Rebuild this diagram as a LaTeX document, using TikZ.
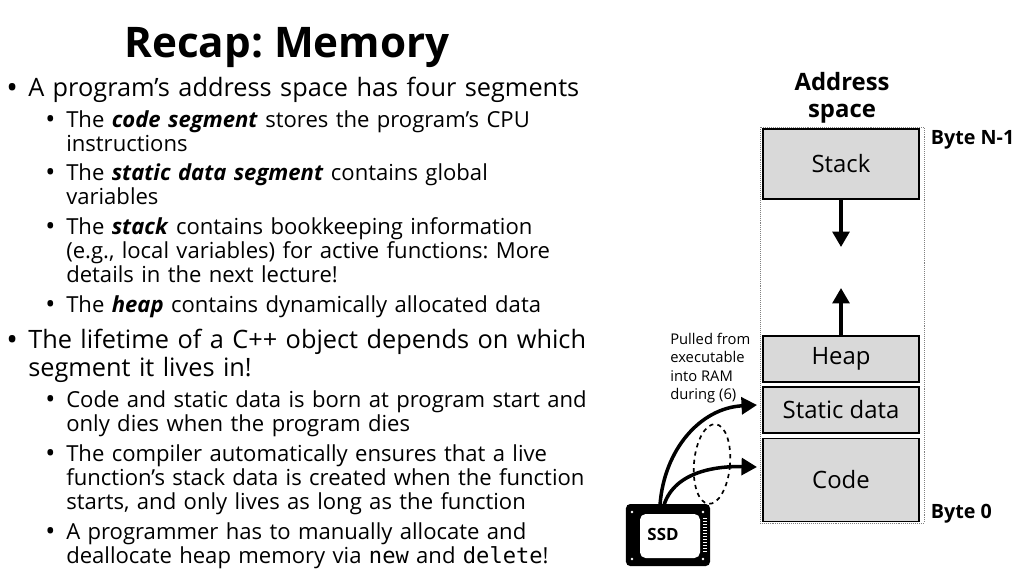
\documentclass[tikz,border=0pt]{standalone}
\usepackage{fontspec}
\setmainfont{Open Sans}
\setmonofont{DejaVu Sans Mono}
\usetikzlibrary{positioning,arrows.meta}
\hyphenpenalty=10000
\exhyphenpenalty=10000
\frenchspacing
\tikzset{
	seg/.style={draw,thick,fill=black!15,minimum width=3.9cm,font=\fontsize{17}{20}\selectfont},
	lone/.style={anchor=north west,text width=14.2cm,align=left,inner sep=0pt,font=\fontsize{18}{19.6}\selectfont},
	ltwo/.style={anchor=north west,text width=13.2cm,align=left,inner sep=0pt,font=\fontsize{15.7}{17.2}\selectfont},
	dot/.style={anchor=north west,inner sep=0pt},
	blk/.style={line width=2.5pt,-{Triangle[length=11pt,width=12pt]}}
}
\begin{document}
\begin{tikzpicture}[x=0.025cm,y=-0.025cm]
	\useasboundingbox (0,0) rectangle (1024,575);
	
	%Titre
	\node[font=\fontsize{30}{34}\selectfont\bfseries] (title) at (287,48) {Recap: Memory};
	
	%Puces
	\node[lone] (b1) at (28,77) {A program’s address space has four segments};
	\node[lone] (b2) at (28,329) {The lifetime of a C++ object depends on which segment it lives in!};
	\foreach \y in {83,335}
		\node[dot,font=\fontsize{22}{20}\selectfont] at (6,\y) {•};
	\node[ltwo] (b11) at (66,110) {The \textbf{\textit{code segment}} stores the program’s CPU instructions};
	\node[ltwo] (b12) at (66,163) {The \textbf{\textit{static data segment}} contains global\newline variables};
	\node[ltwo] (b13) at (66,217) {The \textbf{\textit{stack}} contains bookkeeping information\newline (e.g., local variables) for active functions: More\newline details in the next lecture!};
	\node[ltwo] (b14) at (66,295) {The \textbf{\textit{heap}} contains dynamically allocated data};
	\node[ltwo] (b21) at (66,390) {Code and static data is born at program start and only dies when the program dies};
	\node[ltwo] (b22) at (66,444) {The compiler automatically ensures that a live function’s stack data is created when the function starts, and only lives as long as the function};
	\node[ltwo] (b23) at (66,522) {A programmer has to manually allocate and deallocate heap memory via \texttt{new} and \texttt{delete}!};
	\foreach \y in {115,168,222,300,395,449,527}
		\node[dot,font=\fontsize{19}{17}\selectfont] at (45,\y) {•};
	
	%Espace d'adressage
	\draw[densely dotted,gray] (760,127) rectangle (924,523);
	\node[font=\fontsize{17}{19}\selectfont\bfseries,align=center] (addr) at (842,98) {Address\\space};
	\node[seg,minimum height=1.75cm] (stack) at (841,164) {Stack};
	\node[seg,minimum height=1.15cm] (heap) at (841,359) {Heap};
	\node[seg,minimum height=1.15cm] (static) at (841,410) {Static data};
	\node[seg,minimum height=2.07cm] (code) at (841,480) {Code};
	\coordinate (sdown) at (841,247);
	\coordinate (hup) at (841,288);
	\draw[blk] (stack) -- (sdown);
	\draw[blk] (heap) -- (hup);
	\node[anchor=west,font=\fontsize{14}{16}\selectfont\bfseries] (top) at (926,140) {Byte N-1};
	\node[anchor=west,font=\fontsize{14}{16}\selectfont\bfseries] (bot) at (926,514) {Byte 0};
	\node[anchor=north west,align=left,font=\fontsize{10.5}{13}\selectfont,inner sep=0pt] (pulled) at (670,333) {Pulled from\\executable\\into RAM\\during (6)};
	
	%SSD
	\node[fill=black,rounded corners=3pt,minimum width=2.1cm,minimum height=1.55cm] (ssd) at (668,535) {};
	\fill[white,rounded corners=4pt] (640,514) rectangle (700,558);
	\foreach \x/\y in {632/512,703/512,632/559,703/559}
		\fill[white] (\x,\y) circle (1.3);
	\foreach \y in {518,521,...,551}
		\draw[white,line width=0.5pt] (703,\y) -- (707,\y);
	\node[font=\fontsize{12}{12}\selectfont\bfseries] (ssdl) at (663,534) {SSD};
	\coordinate (sin) at (757,405);
	\coordinate (cin) at (757,467);
	\draw[blk] (660,505) .. controls (664,450) and (700,408) .. (sin);
	\draw[blk] (664,505) .. controls (675,470) and (720,466) .. (cin);
	\draw[line width=1.2pt,dashed,rotate around={-5:(712,464)}] (712,464) ellipse (18 and 40);
\end{tikzpicture}
\end{document}
